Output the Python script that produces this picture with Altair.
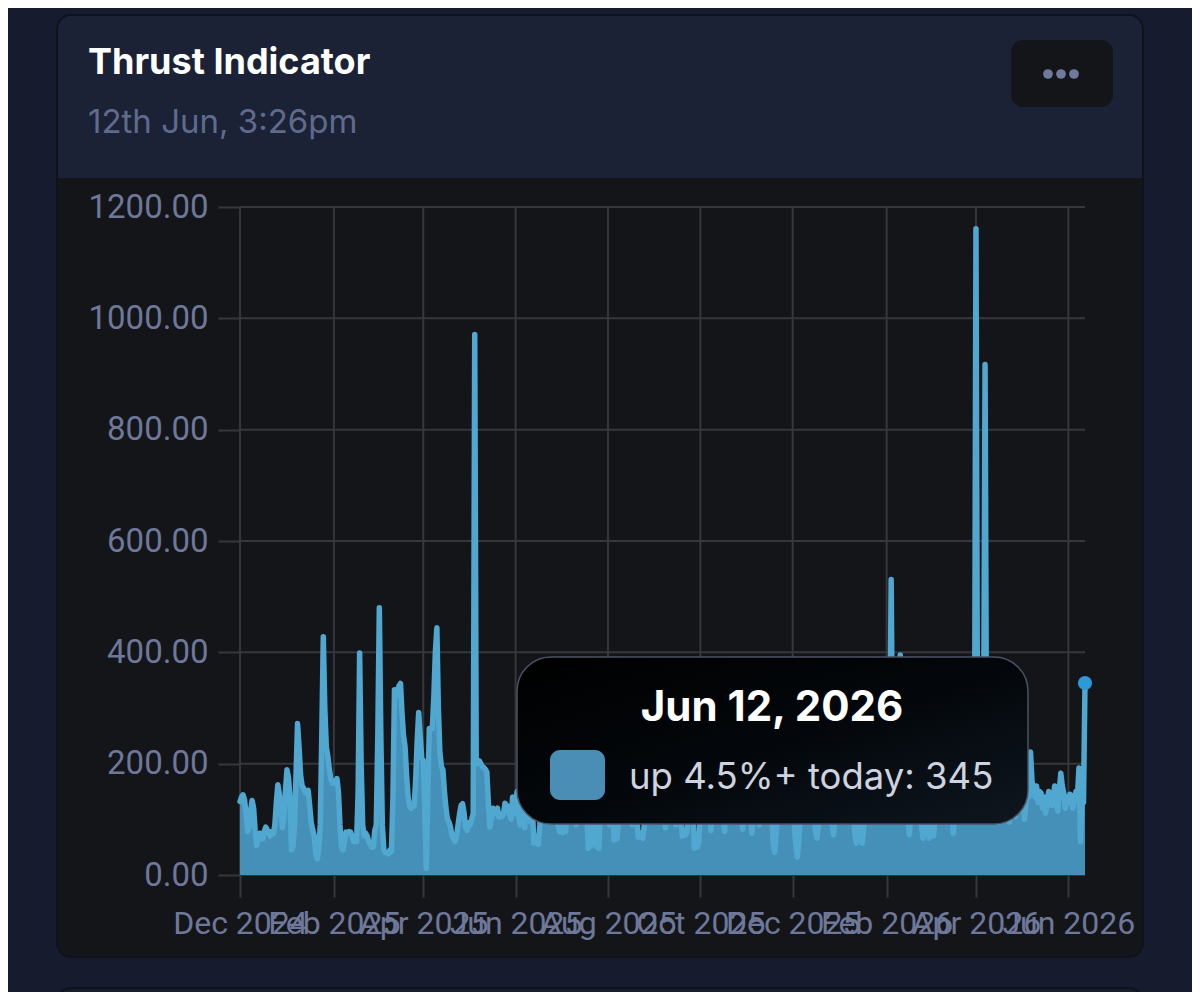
import altair as alt
import pandas as pd

# ---------------- data (daily values) ----------------
dec24 = [132, 140, 144, 135, 110, 78, 85, 115, 134, 120, 80, 53, 65, 75, 72, 65, 78, 86, 81, 75, 70, 78, 74, 90, 130, 162, 145, 110, 85, 105, 150]
jan25 = [189, 175, 140, 45, 50, 90, 180, 272, 230, 180, 160, 156, 148, 150, 152, 125, 95, 81, 70, 40, 29, 45, 90, 250, 428, 300, 230, 213, 190, 172, 165]
feb25 = [168, 165, 173, 150, 90, 50, 45, 60, 77, 75, 78, 77, 70, 60, 62, 60, 150, 399, 200, 90, 70, 75, 70, 60, 55, 50, 50, 80]
mar25 = [90, 250, 480, 250, 90, 45, 40, 40, 38, 45, 42, 140, 333, 320, 330, 340, 344, 290, 250, 230, 180, 140, 123, 120, 125, 124, 170, 240, 292, 250, 210]
apr25 = [205, 120, 12, 140, 263, 263, 263, 320, 400, 444, 300, 220, 195, 189, 150, 120, 100, 95, 86, 70, 65, 60, 70, 90, 110, 125, 128, 110, 85, 80]
may25 = [94, 90, 100, 110, 971, 205, 200, 205, 200, 195, 193, 190, 185, 130, 86, 100, 120, 110, 115, 120, 104, 110, 105, 110, 129, 125, 123, 110, 100, 140, 110]
jun25 = [130, 150, 105, 90, 160, 120, 85, 140, 175, 110, 95, 130, 57, 70, 62, 55, 90, 145, 120, 100, 165, 130, 95, 110, 150, 180, 125, 100, 90, 78]
jul25 = [80, 76, 95, 78, 120, 160, 135, 100, 150, 115, 90, 130, 170, 140, 105, 125, 95, 110, 48, 60, 52, 90, 140, 55, 50, 48, 120, 160, 130, 100, 145]
aug25 = [115, 90, 150, 130, 63, 70, 65, 100, 140, 175, 125, 95, 110, 160, 135, 100, 90, 145, 120, 110, 68, 75, 70, 66, 90, 130, 155, 115, 100, 140, 125]
sep25 = [95, 150, 120, 105, 165, 130, 100, 85, 140, 115, 95, 125, 160, 110, 90, 135, 150, 120, 70, 80, 72, 75, 100, 140, 115, 130, 48, 55, 50, 60]
oct25 = [120, 150, 105, 95, 140, 170, 125, 80, 115, 150, 130, 95, 110, 160, 140, 105, 78, 125, 155, 120, 100, 135, 115, 95, 145, 170, 120, 105, 82, 130, 150]
nov25 = [110, 95, 140, 75, 100, 160, 130, 105, 90, 145, 120, 110, 150, 135, 100, 95, 120, 60, 41, 70, 115, 140, 120, 105, 130, 160, 115, 100, 140, 120]
dec25 = [120, 90, 55, 32, 60, 110, 150, 125, 100, 140, 165, 120, 95, 130, 110, 80, 66, 90, 140, 160, 115, 100, 135, 150, 120, 105, 95, 72, 110, 145, 130]
jan26 = [100, 155, 120, 95, 140, 170, 115, 100, 125, 110, 75, 57, 85, 120, 65, 57, 90, 130, 150, 130, 105, 140, 165, 115, 100, 135, 150, 120, 110, 140, 160]
feb26 = [140, 160, 200, 531, 180, 140, 120, 150, 200, 395, 220, 150, 120, 100, 110, 72, 110, 145, 130, 100, 125, 150, 115, 90, 66, 100, 130, 90]
mar26 = [66, 110, 140, 70, 100, 130, 150, 115, 100, 140, 125, 95, 160, 130, 105, 120, 75, 110, 145, 170, 130, 100, 150, 125, 110, 140, 165, 120, 100, 135, 150]
apr26 = [1161, 250, 180, 140, 160, 200, 917, 210, 150, 120, 140, 100, 130, 160, 115, 95, 140, 125, 100, 150, 130, 110, 95, 140, 160, 120, 105, 130, 150, 120]
may26 = [120, 150, 100, 130, 160, 140, 221, 170, 150, 140, 160, 130, 150, 147, 120, 140, 111, 130, 150, 143, 125, 140, 160, 130, 115, 150, 183, 160, 147, 120, 140]
jun26 = [130, 145, 143, 120, 135, 150, 140, 192, 60, 140, 130, 345]

start_date = "2024-12-01"
series_name = "up 4.5%+ today"
card_title = "Thrust Indicator"
card_subtitle = "12th Jun, 3:26pm"
y_ticks = [0, 200, 400, 600, 800, 1000, 1200]

values = (dec24 + jan25 + feb25 + mar25 + apr25 + may25 + jun25 + jul25 + aug25
          + sep25 + oct25 + nov25 + dec25 + jan26 + feb26 + mar26 + apr26 + may26 + jun26)
dates = pd.date_range(start_date, periods=len(values), freq="D")
df = pd.DataFrame({"date": dates, "value": values})
tick_dates = pd.date_range(start_date, dates[-1], freq="2MS")

# ---------------- style ----------------
PAGE = "#161c2d"
HEADER = "#1b2236"
BODY = "#141519"
GRID = "#36373c"
LABEL = "#6e7899"
LINE = "#50a7d0"
FILL = "#4590b8"
POINT = "#2b9ad6"

W, H = 845, 668

def dt(d):
    return alt.DateTime(year=d.year, month=d.month, date=d.day)

xscale = alt.Scale(domain=[dt(dates[0]), dt(dates[-1])])
yscale = alt.Scale(domain=[0, 1200], nice=False)

x_axis = alt.Axis(values=[dt(d) for d in tick_dates], format="%b %Y", grid=False,
                  domain=False, tickSize=22, tickColor=GRID, tickWidth=2,
                  labelFont="Roboto", labelFontSize=32, labelColor=LABEL,
                  labelPadding=11, labelOverlap=False, labelFlush=False,
                  title=None, zindex=1)
y_axis = alt.Axis(values=y_ticks, format=".2f", grid=False, domain=False,
                  tickSize=22, tickColor=GRID, tickWidth=2,
                  labelFont="Roboto", labelFontSize=33, labelColor=LABEL,
                  labelPadding=10, title=None, zindex=1)

one = pd.DataFrame({"k": [0]})

def rect(x, x2, y, y2, **kw):
    return alt.Chart(one).mark_rect(**kw).encode(
        x=alt.value(x), x2=alt.value(x2), y=alt.value(y), y2=alt.value(y2))

def text(t, x, y, **kw):
    return alt.Chart(one).mark_text(text=t, **kw).encode(x=alt.value(x), y=alt.value(y))

def dot(x, y, **kw):
    return alt.Chart(one).mark_circle(**kw).encode(x=alt.value(x), y=alt.value(y))

card = rect(-183, 903, -192, 750, fill=BODY, stroke="#0e121d", strokeWidth=2, cornerRadius=14)
header = rect(-182, 902, -191, -29, fill=HEADER, cornerRadiusTopLeft=13, cornerRadiusTopRight=13)
next_card = rect(-183, 903, 781, 860, fill="#171d2c", stroke="#0e121d", strokeWidth=2, cornerRadius=14)
button = rect(771, 873, -167, -100, fill="#141519", cornerRadius=12)
dots = [dot(x, -133, size=95, color="#6f7a9c", opacity=1) for x in (808, 821, 834)]

title = text(card_title, -152, -133, align="left", baseline="alphabetic", font="Inter",
             fontSize=36, fontWeight="bold", color="#ffffff")
subtitle = text(card_subtitle, -152, -74, align="left", baseline="alphabetic", font="Inter",
                fontSize=33, color="#5f6b8c")

vgrid = alt.Chart(pd.DataFrame({"date": tick_dates})).mark_rule(color=GRID, strokeWidth=2).encode(
    x=alt.X("date:T", scale=xscale, axis=x_axis), y=alt.value(0), y2=alt.value(H))
hgrid = alt.Chart(pd.DataFrame({"value": y_ticks})).mark_rule(color=GRID, strokeWidth=2).encode(
    y=alt.Y("value:Q", scale=yscale, axis=y_axis), x=alt.value(0), x2=alt.value(W))

area = alt.Chart(df).mark_area(
    color=FILL, opacity=1, interpolate="linear",
    line={"color": LINE, "strokeWidth": 5.5, "strokeJoin": "round", "strokeCap": "round"},
).encode(x=alt.X("date:T", scale=xscale, axis=x_axis),
         y=alt.Y("value:Q", scale=yscale, axis=y_axis))

point = alt.Chart(df.tail(1)).mark_circle(size=200, color=POINT, opacity=1).encode(
    x=alt.X("date:T", scale=xscale, axis=x_axis),
    y=alt.Y("value:Q", scale=yscale, axis=y_axis))

tip_fill = alt.Gradient(gradient="linear", x1=0, y1=0, x2=1, y2=1,
                        stops=[alt.GradientStop(color="#000000", offset=0),
                               alt.GradientStop(color="#03070b", offset=0.5),
                               alt.GradientStop(color="#0e161f", offset=1)])
tip = rect(277, 788, 450, 617, fill=tip_fill, stroke="#4a5163", strokeWidth=1.5, cornerRadius=34)
swatch = rect(310, 365, 543, 593, fill="#4a8db5", cornerRadius=10)
tip_title = text(dates[-1].strftime("%b %d, %Y"), 532, 514, align="center", baseline="alphabetic",
                 font="Inter", fontSize=42, fontWeight="bold", color="#ffffff")
tip_body = text(f"{series_name}: {values[-1]}", 389, 582, align="left", baseline="alphabetic",
                font="Inter", fontSize=36.5, color="#cdd3df")

chart = alt.layer(
    card, header, next_card, button, *dots, title, subtitle,
    vgrid, hgrid, area, point, tip, swatch, tip_title, tip_body,
).properties(
    width=W, height=H,
    padding={"left": 232, "top": 199, "right": 107, "bottom": 117},
    autosize=alt.AutoSizeParams(type="none"),
    background=PAGE,
    usermeta={"embedOptions": {"defaultStyle": "body{background:#161c2d;}"}},
).configure_view(stroke=None)

chart.save("out.html", embed_options={"renderer": "svg", "actions": False})
